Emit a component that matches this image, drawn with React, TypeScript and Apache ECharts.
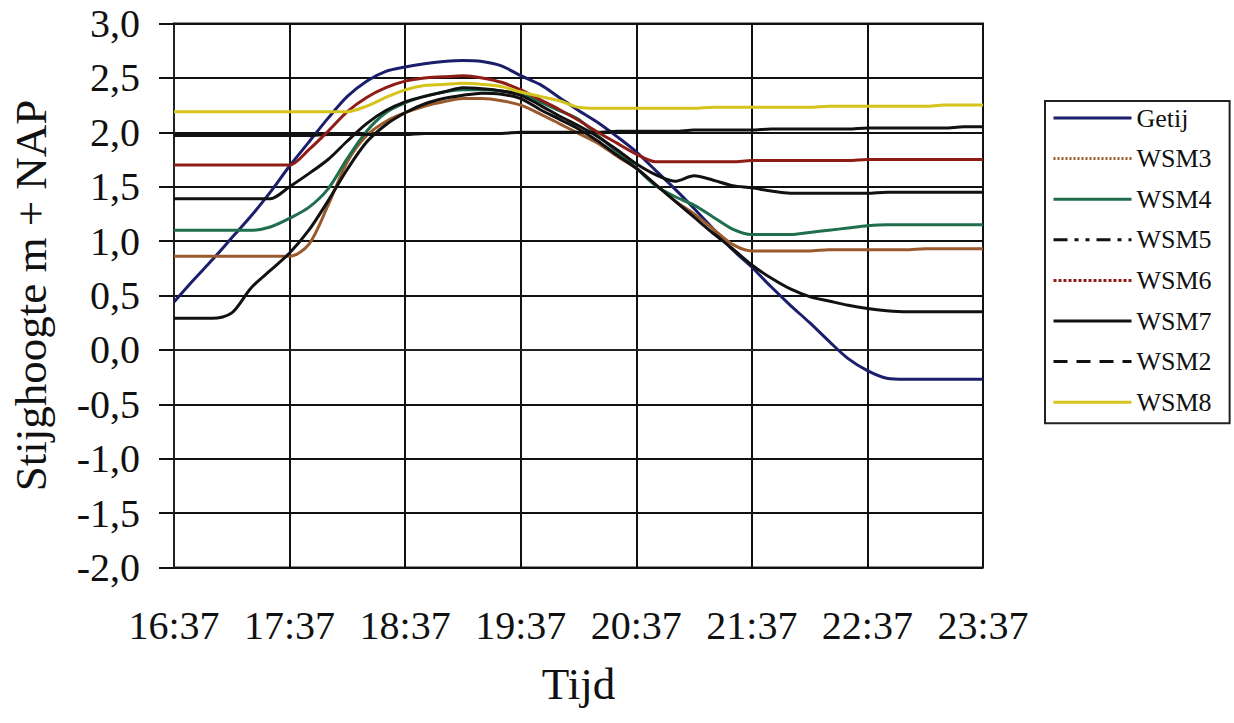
import React, { useEffect, useRef } from "react";
import * as echarts from "echarts";

// Minutes after 16:37
const timeMinutes = [
  0, 10, 20, 30, 40, 50, 60, 70, 80, 90, 100, 110, 120, 130, 140, 150, 160, 170, 180, 190, 200,
  210, 220, 230, 240, 250, 260, 270, 280, 290, 300, 310, 320, 330, 340, 350, 360, 370, 380, 390,
  400, 410, 420,
];
const startClock = 16 * 60 + 37;
const yTicks = [-2, -1.5, -1, -0.5, 0, 0.5, 1, 1.5, 2, 2.5, 3];

const getij = [
  0.44, 0.64, 0.83, 1.03, 1.23, 1.45, 1.69, 1.91, 2.13, 2.33, 2.47, 2.56, 2.6, 2.63, 2.65, 2.66,
  2.65, 2.61, 2.52, 2.44, 2.32, 2.2, 2.09, 1.96, 1.82, 1.65, 1.48, 1.3, 1.11, 0.92, 0.76, 0.58,
  0.41, 0.25, 0.08, -0.08, -0.19, -0.26, -0.27, -0.27, -0.27, -0.27, -0.27,
];
const wsm3 = [
  0.86, 0.86, 0.86, 0.86, 0.86, 0.86, 0.86, 0.97, 1.33, 1.73, 1.97, 2.1, 2.18, 2.24, 2.28, 2.31,
  2.31, 2.29, 2.25, 2.17, 2.08, 1.99, 1.9, 1.78, 1.67, 1.52, 1.37, 1.25, 1.11, 0.97, 0.91, 0.91,
  0.91, 0.91, 0.92, 0.92, 0.92, 0.92, 0.92, 0.93, 0.93, 0.93, 0.93,
];
const wsm4 = [
  1.1, 1.1, 1.1, 1.1, 1.1, 1.13, 1.21, 1.31, 1.48, 1.76, 2.01, 2.18, 2.27, 2.33, 2.37, 2.39, 2.39,
  2.38, 2.35, 2.28, 2.2, 2.12, 1.97, 1.82, 1.67, 1.51, 1.41, 1.33, 1.22, 1.11, 1.06, 1.06, 1.06,
  1.08, 1.1, 1.12, 1.14, 1.15, 1.15, 1.15, 1.15, 1.15, 1.15,
];
const wsm5 = [
  1.97, 1.97, 1.97, 1.97, 1.97, 1.97, 1.97, 1.97, 1.98, 1.98, 1.98, 1.98, 1.98, 1.99, 1.99, 1.99,
  1.99, 1.99, 2.0, 2.0, 2.0, 2.0, 2.0, 2.01, 2.01, 2.01, 2.01, 2.02, 2.02, 2.02, 2.02, 2.03, 2.03,
  2.03, 2.03, 2.03, 2.04, 2.04, 2.04, 2.04, 2.04, 2.05, 2.05,
];
const wsm6 = [
  1.7, 1.7, 1.7, 1.7, 1.7, 1.7, 1.7, 1.84, 2.01, 2.19, 2.32, 2.41, 2.47, 2.5, 2.51, 2.52, 2.5,
  2.46, 2.39, 2.3, 2.21, 2.11, 2.0, 1.9, 1.8, 1.73, 1.73, 1.73, 1.73, 1.73, 1.74, 1.74, 1.74, 1.74,
  1.74, 1.74, 1.75, 1.75, 1.75, 1.75, 1.75, 1.75, 1.75,
];
const wsm7 = [
  1.39, 1.39, 1.39, 1.39, 1.39, 1.39, 1.5, 1.62, 1.75, 1.92, 2.08, 2.2, 2.28, 2.33, 2.37, 2.41,
  2.4, 2.38, 2.34, 2.25, 2.15, 2.06, 1.96, 1.84, 1.71, 1.61, 1.55, 1.6, 1.56, 1.51, 1.49, 1.46,
  1.44, 1.44, 1.44, 1.44, 1.44, 1.45, 1.45, 1.45, 1.45, 1.45, 1.45,
];
const wsm2 = [
  0.29, 0.29, 0.29, 0.34, 0.57, 0.73, 0.89, 1.1, 1.37, 1.66, 1.91, 2.07, 2.18, 2.26, 2.31, 2.34,
  2.36, 2.35, 2.31, 2.21, 2.12, 2.03, 1.92, 1.79, 1.67, 1.52, 1.37, 1.22, 1.07, 0.93, 0.78, 0.66,
  0.56, 0.49, 0.45, 0.41, 0.38, 0.36, 0.35, 0.35, 0.35, 0.35, 0.35,
];
const wsm8 = [
  2.19, 2.19, 2.19, 2.19, 2.19, 2.19, 2.19, 2.19, 2.19, 2.19, 2.24, 2.32, 2.39, 2.43, 2.44, 2.45,
  2.44, 2.42, 2.37, 2.33, 2.29, 2.23, 2.22, 2.22, 2.22, 2.22, 2.22, 2.22, 2.23, 2.23, 2.23, 2.23,
  2.23, 2.23, 2.24, 2.24, 2.24, 2.24, 2.24, 2.24, 2.25, 2.25, 2.25,
];

const seriesNames = ["Getij", "WSM3", "WSM4", "WSM5", "WSM6", "WSM7", "WSM2", "WSM8"];
const seriesValues = [getij, wsm3, wsm4, wsm5, wsm6, wsm7, wsm2, wsm8];
const seriesColors = [
  "#1b1f6b", "#9a5a2c", "#1f6e4e", "#111111", "#8e1d16", "#111111", "#111111", "#d4c41c",
];
const legendLineTypes: any[] = [
  "solid", [2, 2], "solid", [14, 7, 4, 7, 4, 7], [3, 2], "solid", [14, 9], "solid",
];

const FONT = "'Liberation Serif', 'Times New Roman', 'DejaVu Serif', serif";

function clock(m: number) {
  const t = startClock + m;
  const h = Math.floor(t / 60);
  const mm = t % 60;
  return `${h}:${mm < 10 ? "0" : ""}${mm}`;
}

export default function App() {
  const ref = useRef<HTMLDivElement>(null);
  useEffect(() => {
    const chart = echarts.init(ref.current!, null, { renderer: "svg" });
    chart.setOption({
      animation: false,
      backgroundColor: "#ffffff",
      grid: {
        left: 172,
        top: 23.5,
        right: 251,
        bottom: 155.5,
        show: true,
        borderColor: "#222",
        borderWidth: 2,
        backgroundColor: "transparent",
      },
      legend: {
        orient: "vertical",
        left: 1045,
        top: 101,
        padding: [4, 18, 8, 7],
        itemWidth: 78,
        itemHeight: 14,
        itemGap: 14.6,
        borderColor: "#222",
        borderWidth: 2,
        itemStyle: { color: "rgba(0,0,0,0)", borderColor: "rgba(0,0,0,0)", borderWidth: 0 },
        textStyle: { fontFamily: FONT, fontSize: 26, lineHeight: 26, color: "#111" },
        data: seriesNames.map((n, i) => ({
          name: n,
          lineStyle: { type: legendLineTypes[i], width: 3 },
        })),
      },
      xAxis: {
        type: "value",
        min: 0,
        max: 420,
        interval: 60,
        name: "Tijd",
        nameLocation: "middle",
        nameGap: 94,
        nameTextStyle: { fontFamily: FONT, fontSize: 45, color: "#111" },
        axisLine: { show: true, lineStyle: { color: "#222", width: 2 } },
        axisTick: { show: false },
        axisLabel: {
          formatter: (v: number) => clock(v),
          fontFamily: FONT,
          fontSize: 40,
          color: "#111",
          margin: 38,
        },
        splitLine: { show: true, lineStyle: { color: "#111", width: 2 } },
      },
      yAxis: {
        type: "value",
        min: yTicks[0],
        max: yTicks[yTicks.length - 1],
        interval: 0.5,
        name: "Stijghoogte m + NAP",
        nameLocation: "middle",
        nameGap: 121,
        nameRotate: 90,
        nameTextStyle: { fontFamily: FONT, fontSize: 45, color: "#111" },
        axisLine: { show: true, lineStyle: { color: "#222", width: 2 } },
        axisTick: { show: true, inside: false, length: 15, lineStyle: { color: "#111", width: 2 } },
        axisLabel: {
          formatter: (v: number) => v.toFixed(1).replace(".", ","),
          fontFamily: FONT,
          fontSize: 40,
          color: "#111",
          margin: 34,
        },
        splitLine: { show: true, lineStyle: { color: "#111", width: 2 } },
      },
      series: seriesNames.map((n, i) => ({
        name: n,
        type: "line",
        symbol: "none",
        smooth: 0.3,
        data: timeMinutes.map((t, k) => [t, seriesValues[i][k]]),
        lineStyle: { color: seriesColors[i], width: 3 },
        itemStyle: { color: seriesColors[i] },
      })),
    });
    return () => chart.dispose();
  }, []);
  return (
    <div
      ref={ref}
      style={{ position: "fixed", left: 0, top: 0, width: 1234, height: 723, background: "#fff" }}
    />
  );
}
